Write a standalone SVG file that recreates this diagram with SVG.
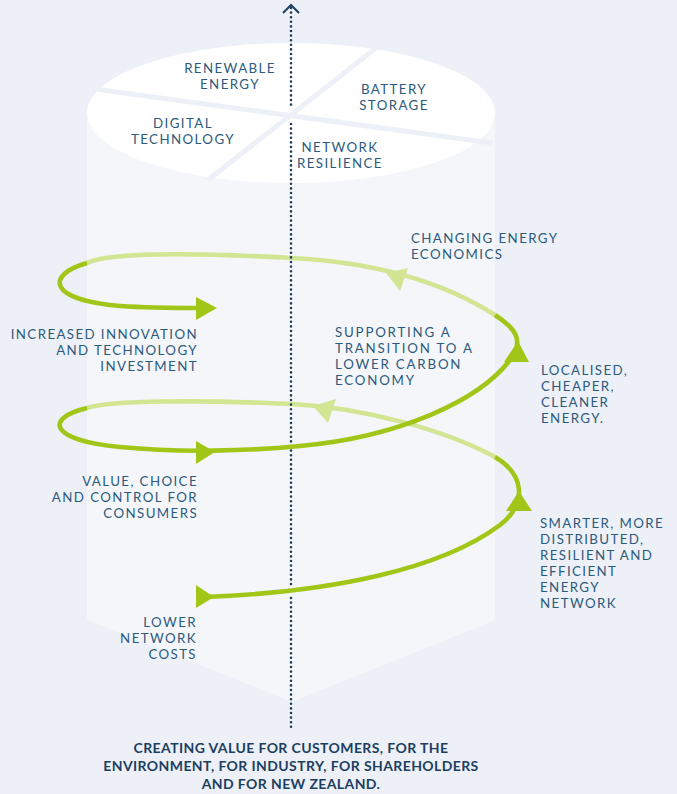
<svg xmlns="http://www.w3.org/2000/svg" width="677" height="794" viewBox="0 0 677 794">
<defs>
<style>
.lbl{font-family:Lato,"Open Sans","Liberation Sans",sans-serif;font-size:13.3px;fill:#2c5a7d;letter-spacing:1.4px}
.foot{font-family:Lato,"Open Sans","Liberation Sans",sans-serif;font-size:14px;font-weight:bold;fill:#1b3f62;letter-spacing:0.4px}
.dk{fill:none;stroke:#a2c617;stroke-width:4.6;stroke-linecap:butt}
.lt{fill:none;stroke:#d2e592;stroke-width:4.6}
.dkh{fill:#a2c617}
.lth{fill:#d2e592}
.axis{fill:none;stroke:#1d3f5f;stroke-width:2.6;stroke-linecap:round;stroke-dasharray:0 4.6}
</style>
</defs>
<rect width="677" height="794" fill="#edf0f7"/>
<g id="cylinder">
<path d="M87,113 L495,113 L495,620 L292,702 L87,620 Z" fill="#f4f6fa"/>
<ellipse cx="291" cy="113" rx="204" ry="70" fill="#ffffff"/>
<line x1="95" y1="89" x2="492" y2="143" stroke="#edf0f7" stroke-width="5"/>
<line x1="376" y1="48" x2="208" y2="180" stroke="#edf0f7" stroke-width="5"/>
</g>
<g id="connectors">
<g id="back-strands">
<path class="lt" d="M495,457 C445,430 365,408 292,404 C200,400 110,400 87,408"/>
<path class="lt" d="M495,315 C440,280 370,262 292,258 C200,253 110,252 87,263"/>
<polygon class="lth" points="313,406 336,399 328,423"/>
<polygon class="lth" points="386,273 408,268 400,291"/>
</g>
<g id="axis">
<polyline points="283,13 291,5 299,13" fill="none" stroke="#1d3f5f" stroke-width="2"/>
<line class="axis" x1="291" y1="8" x2="291" y2="108"/>
<line class="axis" x1="291" y1="124" x2="291" y2="584"/>
<line class="axis" x1="291" y1="598" x2="291" y2="728"/>
</g>
<g id="front-strands">
<path class="dk" d="M205,597 C330,592 440,570 500,525 C528,503 524,474 495,457"/>
<path class="dk" d="M87,408 C45,418 48,440 120,447 C180,453 250,451 300,446 C400,437 480,400 510,360 C525,340 515,328 495,315"/>
<path class="dk" d="M87,263 C45,275 48,300 120,306 C150,308 180,308 200,308"/>
<polygon class="dkh" points="196,585 214,597 196,608"/>
<polygon class="dkh" points="196,441 215,452 196,464"/>
<polygon class="dkh" points="196,297 217,308 196,320"/>
<polygon class="dkh" points="519,491 532,511 506,511"/>
<polygon class="dkh" points="518,341 529,362 504,362"/>
</g>
</g>
<g id="renewable-energy"><text class="lbl" text-anchor="middle"><tspan x="230" y="73">RENEWABLE</tspan><tspan x="230" y="89">ENERGY</tspan></text></g>
<g id="battery-storage"><text class="lbl" text-anchor="middle"><tspan x="394" y="94">BATTERY</tspan><tspan x="394" y="110">STORAGE</tspan></text></g>
<g id="digital-technology"><text class="lbl" text-anchor="middle"><tspan x="183" y="128">DIGITAL</tspan><tspan x="183" y="144">TECHNOLOGY</tspan></text></g>
<g id="network-resilience"><text class="lbl" text-anchor="middle"><tspan x="340" y="152">NETWORK</tspan><tspan x="340" y="168">RESILIENCE</tspan></text></g>
<g id="changing-energy-economics"><text class="lbl"><tspan x="411" y="243">CHANGING ENERGY</tspan><tspan x="411" y="259">ECONOMICS</tspan></text></g>
<g id="supporting-transition"><text class="lbl" style="letter-spacing:1.8px"><tspan x="335" y="337">SUPPORTING A</tspan><tspan x="335" y="353">TRANSITION TO A</tspan><tspan x="335" y="369">LOWER CARBON</tspan><tspan x="335" y="385">ECONOMY</tspan></text></g>
<g id="localised-energy"><text class="lbl"><tspan x="541" y="375">LOCALISED,</tspan><tspan x="541" y="391">CHEAPER,</tspan><tspan x="541" y="407">CLEANER</tspan><tspan x="541" y="423">ENERGY.</tspan></text></g>
<g id="increased-innovation"><text class="lbl" text-anchor="end"><tspan x="198" y="339">INCREASED INNOVATION</tspan><tspan x="198" y="355">AND TECHNOLOGY</tspan><tspan x="198" y="371">INVESTMENT</tspan></text></g>
<g id="value-choice-control"><text class="lbl" text-anchor="end"><tspan x="198" y="486">VALUE, CHOICE</tspan><tspan x="198" y="502">AND CONTROL FOR</tspan><tspan x="198" y="518">CONSUMERS</tspan></text></g>
<g id="lower-network-costs"><text class="lbl" text-anchor="end"><tspan x="197" y="627">LOWER</tspan><tspan x="197" y="643">NETWORK</tspan><tspan x="197" y="659">COSTS</tspan></text></g>
<g id="smarter-network"><text class="lbl"><tspan x="540" y="528">SMARTER, MORE</tspan><tspan x="540" y="544">DISTRIBUTED,</tspan><tspan x="540" y="560">RESILIENT AND</tspan><tspan x="540" y="576">EFFICIENT</tspan><tspan x="540" y="592">ENERGY</tspan><tspan x="540" y="608">NETWORK</tspan></text></g>
<g id="creating-value"><text class="foot" text-anchor="middle"><tspan x="291" y="753">CREATING VALUE FOR CUSTOMERS, FOR THE</tspan><tspan x="291" y="771">ENVIRONMENT, FOR INDUSTRY, FOR SHAREHOLDERS</tspan><tspan x="291" y="789">AND FOR NEW ZEALAND.</tspan></text></g>
</svg>
